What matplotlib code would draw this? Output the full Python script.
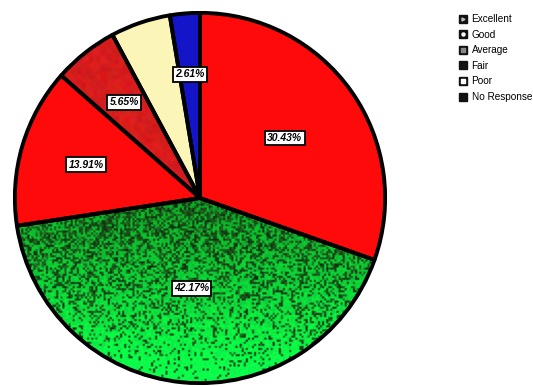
import numpy as np
import matplotlib
matplotlib.use("Agg")
import matplotlib.pyplot as plt
from matplotlib.lines import Line2D
from matplotlib.patches import PathPatch
from matplotlib.legend_handler import HandlerTuple

plt.rcParams['font.family'] = ['Liberation Sans', 'DejaVu Sans']

categories = ["Excellent", "Good", "Average", "Fair", "Poor", "No Response"]
percentages = [30.43, 42.17, 13.91, 5.65, 5.23, 2.61]
labels_shown = ["30.43%", "42.17%", "13.91%", "5.65%", "", "2.61%"]
slice_colors = ["#fe0a0a", "#22c83a", "#fe0a0a", "#d91c1c", "#fbf6b8", "#1414c8"]
label_radius = [0.56, 0.49, 0.64, 0.66, 0.6, 0.67]

W, H = 533, 387
fig = plt.figure(figsize=(W / 100, H / 100), dpi=100)
cx, cy, R = 200, 198, 187
ax = fig.add_axes([(cx - R) / W, (H - cy - R) / H, 2 * R / W, 2 * R / H])

wedges, _ = ax.pie(percentages, colors=slice_colors, startangle=90, counterclock=False,
                   radius=1.0, center=(0, 0), frame=True,
                   wedgeprops=dict(edgecolor='none', linewidth=0))
ax.set_xlim(-1.01, 1.01)
ax.set_ylim(-1.01, 1.01)
ax.set_aspect('equal')
ax.axis('off')

# speckled texture for the "Good" slice: dark near the centre, bright green at the rim
rng = np.random.default_rng(7)
n = 180
yy, xx = np.mgrid[1:-1:complex(0, n), -1:1:complex(0, n)]
shade = np.clip((-yy - 0.05) / 0.9, 0, 1)
noise = rng.random((n, n))
dark = noise < (0.6 - 0.5 * shade)
tex = np.zeros((n, n, 3))
tex[..., 0] = 0.05
tex[..., 1] = 0.6 + 0.35 * shade + 0.15 * rng.random((n, n))
tex[..., 2] = 0.15 + 0.15 * shade
tex[dark] = np.array([0.1, 0.32, 0.1]) * (0.5 + 0.9 * rng.random((dark.sum(), 1)))
tex = np.clip(tex, 0, 1)
im = ax.imshow(tex, extent=(-1, 1, -1, 1), zorder=wedges[1].get_zorder() + 0.1,
               interpolation='antialiased')
im.set_clip_path(wedges[1])

# subtle mottling for the "Fair" slice
m = 100
fair = np.zeros((m, m, 3))
fair[..., 0] = 0.78 + 0.12 * rng.random((m, m))
fair[..., 1] = 0.08 + 0.06 * rng.random((m, m))
fair[..., 2] = 0.08 + 0.06 * rng.random((m, m))
im2 = ax.imshow(fair, extent=(-1, 1, -1, 1), zorder=wedges[3].get_zorder() + 0.1,
                interpolation='bilinear')
im2.set_clip_path(wedges[3])

# slice outlines drawn above the textures
for w in wedges:
    ax.add_patch(PathPatch(w.get_path(), transform=w.get_transform(), fill=False,
                           edgecolor='black', linewidth=2.8, zorder=5,
                           joinstyle='round'))

# percentage labels in boxed italic bold text
theta = 90.0
for pct, lab, r in zip(percentages, labels_shown, label_radius):
    span = pct / 100 * 360
    mid = np.deg2rad(theta - span / 2)
    theta -= span
    if not lab:
        continue
    ax.text(r * np.cos(mid), r * np.sin(mid), lab, ha='center', va='center',
            fontsize=7.5, fontweight='bold', fontstyle='italic', zorder=6,
            bbox=dict(boxstyle='square,pad=0.22', facecolor='white',
                      edgecolor='black', linewidth=1.3))

# legend: dark squares with small light marks
marks = [('>', '#bbbbbb'), ('o', 'white'), ('s', '#888888'),
         (None, None), ('s', 'white'), (None, None)]
handles = []
for mk, mc in marks:
    base = Line2D([], [], marker='s', color='none', markerfacecolor='#111111',
                  markeredgecolor='#111111', markersize=5.3)
    if mk is None:
        handles.append(base)
    else:
        inner = Line2D([], [], marker=mk, color='none', markerfacecolor=mc,
                       markeredgecolor=mc, markersize=2.2)
        handles.append((base, inner))
fig.legend(handles, categories, loc='upper left', bbox_to_anchor=(452 / W, 1 - 7 / H),
           frameon=False, fontsize=7.2, handlelength=0.7, handletextpad=0.55,
           labelspacing=0.56, borderpad=0.2,
           handler_map={tuple: HandlerTuple(ndivide=1, pad=0)})

fig.savefig("out.png", dpi=100, facecolor='white')
